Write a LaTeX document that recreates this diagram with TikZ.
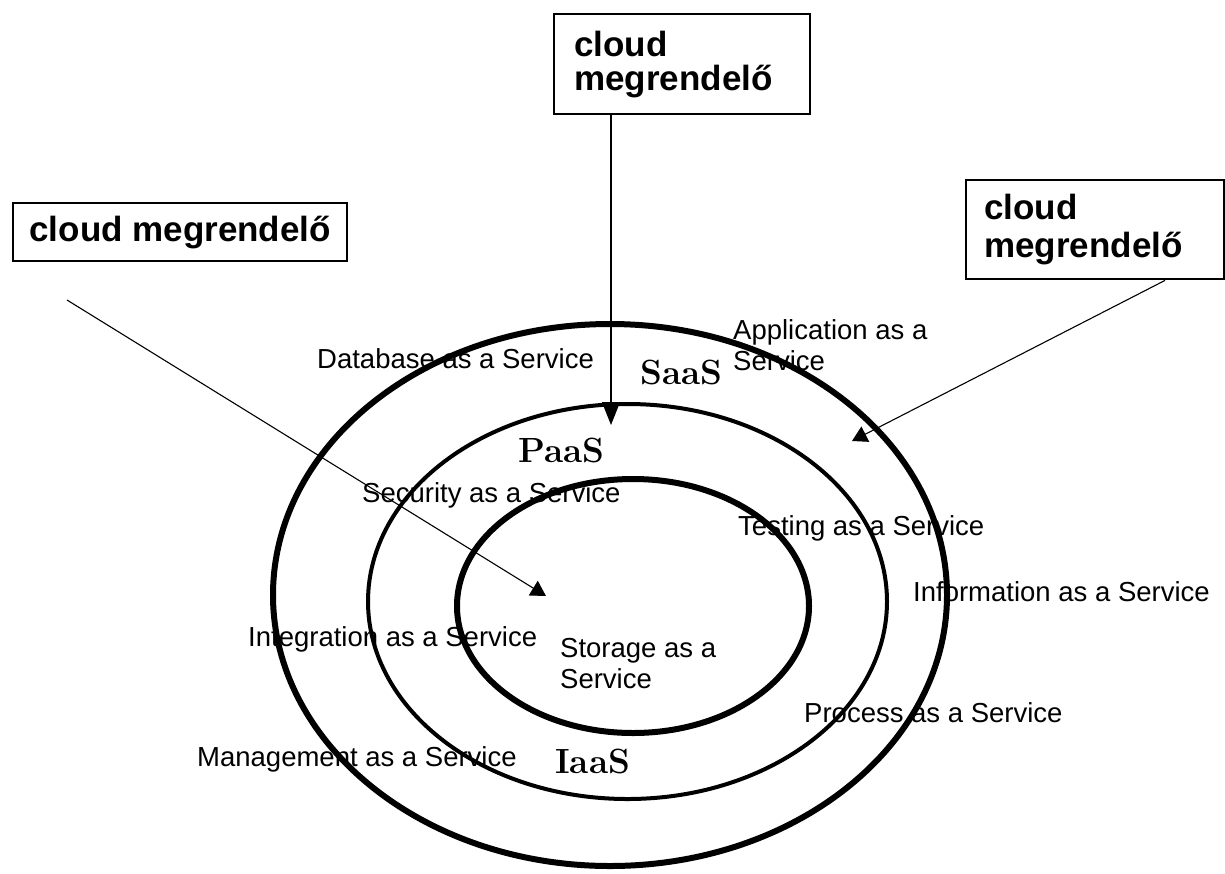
\documentclass[tikz,border=0pt]{standalone}
\usepackage{fontspec}
\newfontfamily\arial{Liberation Sans}
\usetikzlibrary{arrows.meta,calc}
\begin{document}
\begin{tikzpicture}[x=1pt,y=-1pt,
  custbox/.style={draw=black, line width=2.4pt, fill=white, align=left,
    font=\arial\bfseries\fontsize{35}{35}\selectfont, inner ysep=0pt},
  feed/.style={draw=black, line width=1.2pt, -{Triangle[length=23pt,width=18pt]}},
  feedsmall/.style={draw=black, line width=1.1pt, -{Triangle[length=15pt,width=17pt]}},
  svc/.style={anchor=base west, inner sep=0pt, align=left,
    font=\arial\fontsize{27.5}{31}\selectfont},
  layer/.style={anchor=base west, inner sep=0pt,
    font=\bfseries\fontsize{35}{35}\selectfont}]
\useasboundingbox (0,0) rectangle (1225,873);

% the three service layers
\draw[line width=6pt] (610,595) ellipse [x radius=337, y radius=271];
\draw[line width=4pt] (627.5,601.5) ellipse [x radius=259.5, y radius=197.5];
\draw[line width=6pt] (633,606) ellipse [x radius=176, y radius=127];

% layer names
\node[layer] (saas) at (640,384) {SaaS};
\node[layer] (paas) at (518,462) {PaaS};
\node[layer] (iaas) at (555,773) {IaaS};

% services (two-line labels are anchored on their last line)
\node[svc] (app)  at (733,370) {Application as a\\Service};
\node[svc] (db)   at (317,368) {Database as a Service};
\node[svc] (sec)  at (362,502) {Security as a Service};
\node[svc] (test) at (738,535) {Testing as a Service};
\node[svc] (info) at (913,601) {Information as a Service};
\node[svc] (proc) at (804,722) {Process as a Service};
\node[svc] (integ) at (248,646) {Integration as a Service};
\node[svc] (mgmt) at (197,766) {Management as a Service};
\node[svc] (stor) at (560,688) {Storage as a\\Service};

% customers
\node[custbox, anchor=north west, minimum width=256pt, minimum height=100pt,
      text width=216pt, inner xsep=20pt, font=\arial\bfseries\fontsize{35}{34}\selectfont]
      (tbox) at (553,13) {cloud\\megrendelő};
\node[custbox, anchor=north west, minimum width=334pt, minimum height=58pt,
      inner xsep=0pt] (lbox) at (12,202) {cloud megrendelő};
\node[custbox, anchor=north west, minimum width=258pt, minimum height=99pt,
      text width=222pt, inner xsep=18pt, font=\arial\bfseries\fontsize{35}{38}\selectfont]
      (rbox) at (965,179) {cloud\\megrendelő};

% access lines
\coordinate (tin) at (611,425);
\coordinate (lfree) at (67,300);
\coordinate (lin) at (546,596);
\coordinate (rin) at (852,441);
\draw[feed] (tin |- tbox.south) -- (tin);
\draw[feedsmall] (lfree) -- (lin);
\draw[feedsmall] ($(rbox.south west)+(200,0)$) -- (rin);
\end{tikzpicture}
\end{document}
